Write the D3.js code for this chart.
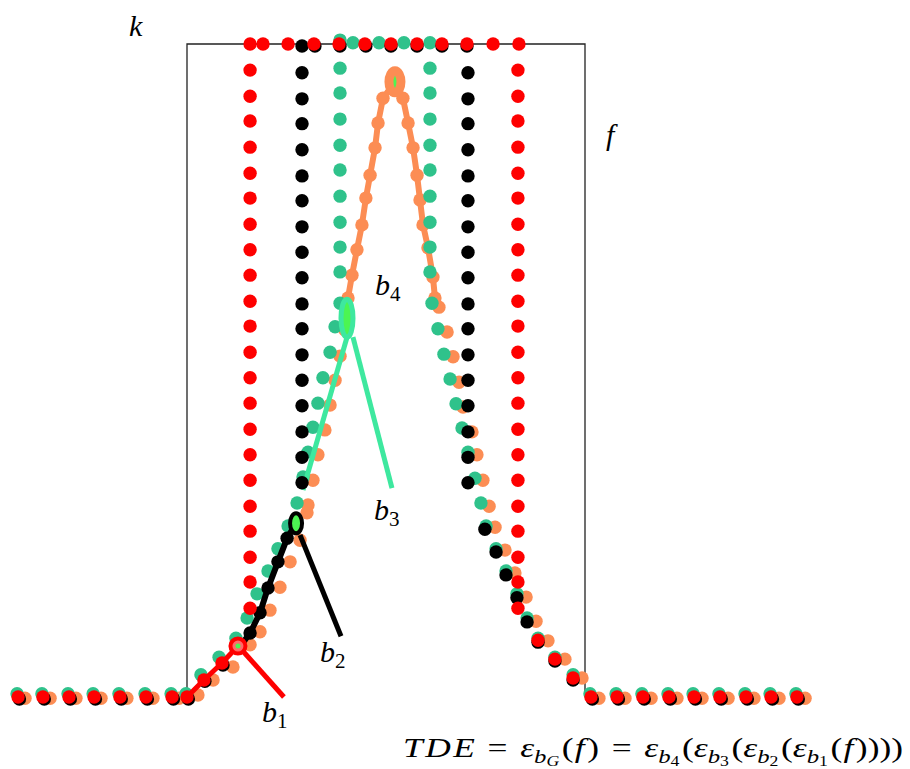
<!DOCTYPE html>
<html>
<head>
<meta charset="utf-8">
<script src="https://cdn.jsdelivr.net/npm/d3@7"></script>
<style>
  body { margin: 0; background: #fff; }
  svg { display: block; }
  text { font-family: "Liberation Serif", "DejaVu Serif", serif; white-space: pre; }
</style>
</head>
<body>
<svg id="chart" width="910" height="769"></svg>
<script>
// target box function k  (x from -1 to 1, height 1)
var kPts = [[-1, 0], [-1, 1], [1, 1], [1, 0]];

// output of block b1 (red)
var redPts = [
  [-1.849, 0], [-1.724, 0], [-1.593, 0], [-1.467, 0], [-1.337, 0], [-1.206, 0], [-1.075, 0], [-1.0, 0],
  [-0.915, 0.026], [-0.824, 0.052], [-0.744, 0.078],
  [-0.683, 0.136], [-0.683, 0.176], [-0.683, 0.214], [-0.683, 0.254], [-0.683, 0.292], [-0.683, 0.332],
  [-0.683, 0.371], [-0.683, 0.410], [-0.683, 0.450], [-0.683, 0.489], [-0.683, 0.528], [-0.683, 0.568],
  [-0.683, 0.606], [-0.683, 0.646], [-0.683, 0.685], [-0.683, 0.724], [-0.683, 0.764], [-0.683, 0.802],
  [-0.683, 0.842], [-0.683, 0.882], [-0.683, 0.920], [-0.683, 0.960],
  [-0.683, 1.0], [-0.618, 1.0], [-0.492, 1.0], [-0.362, 1.0], [-0.236, 1.0], [-0.106, 1.0],
  [0.025, 1.0], [0.156, 1.0], [0.281, 1.0], [0.407, 1.0], [0.538, 1.0], [0.668, 1.0],
  [0.663, 0.960], [0.663, 0.920], [0.663, 0.882], [0.663, 0.842], [0.663, 0.802], [0.663, 0.764],
  [0.663, 0.724], [0.663, 0.685], [0.663, 0.646], [0.663, 0.606], [0.663, 0.568], [0.663, 0.528],
  [0.663, 0.489], [0.663, 0.450], [0.663, 0.410], [0.663, 0.371], [0.663, 0.332], [0.663, 0.292],
  [0.663, 0.254], [0.663, 0.214], [0.663, 0.176], [0.663, 0.136],
  [0.764, 0.087], [0.849, 0.058], [0.940, 0.029],
  [1.030, 0], [1.161, 0], [1.291, 0], [1.422, 0], [1.548, 0], [1.678, 0], [1.809, 0], [1.935, 0], [2.065, 0]
];

// output of block b2 (black)
var blackPts = [
  [-1.842, -0.003], [-1.717, -0.003], [-1.586, -0.003], [-1.460, -0.003], [-1.330, -0.003], [-1.199, -0.003],
  [-1.068, -0.003], [-0.993, -0.003],
  [-0.910, 0.024], [-0.819, 0.049], [-0.739, 0.075], [-0.683, 0.098], [-0.633, 0.129], [-0.593, 0.167],
  [-0.543, 0.207], [-0.497, 0.243], [-0.452, 0.266],
  [-0.422, 0.328], [-0.422, 0.367], [-0.422, 0.406], [-0.422, 0.446], [-0.422, 0.485], [-0.422, 0.524],
  [-0.422, 0.564], [-0.422, 0.602], [-0.422, 0.642], [-0.422, 0.681], [-0.422, 0.720], [-0.422, 0.760],
  [-0.422, 0.798], [-0.422, 0.838], [-0.422, 0.878], [-0.422, 0.916], [-0.422, 0.956],
  [-0.422, 0.997], [-0.357, 0.997], [-0.231, 0.997], [-0.101, 0.997], [0.025, 0.997], [0.156, 0.997],
  [0.281, 0.997], [0.407, 0.997],
  [0.412, 0.956], [0.412, 0.916], [0.412, 0.878], [0.412, 0.838], [0.412, 0.798], [0.412, 0.760],
  [0.412, 0.720], [0.412, 0.681], [0.412, 0.642], [0.412, 0.602], [0.412, 0.564], [0.412, 0.524],
  [0.412, 0.485], [0.412, 0.446], [0.412, 0.406], [0.412, 0.367], [0.412, 0.328],
  [0.497, 0.257], [0.553, 0.222], [0.603, 0.187], [0.658, 0.152], [0.709, 0.115], [0.764, 0.084],
  [0.849, 0.055], [0.940, 0.026],
  [1.037, -0.003], [1.168, -0.003], [1.298, -0.003], [1.429, -0.003], [1.555, -0.003], [1.685, -0.003],
  [1.816, -0.003], [1.942, -0.003], [2.072, -0.003]
];

// output of block b3 (green)
var greenPts = [
  [-1.854, 0.005], [-1.729, 0.005], [-1.598, 0.005], [-1.472, 0.005], [-1.342, 0.005], [-1.211, 0.005],
  [-1.080, 0.005], [-1.005, 0.005],
  [-0.930, 0.034], [-0.839, 0.061], [-0.754, 0.090], [-0.698, 0.121], [-0.648, 0.158], [-0.593, 0.193],
  [-0.543, 0.227], [-0.492, 0.262], [-0.447, 0.297], [-0.417, 0.337], [-0.392, 0.375], [-0.367, 0.413],
  [-0.342, 0.450], [-0.317, 0.489], [-0.281, 0.528], [-0.256, 0.567], [-0.231, 0.603],
  [-0.231, 0.651], [-0.231, 0.689], [-0.231, 0.727], [-0.231, 0.767], [-0.231, 0.807], [-0.231, 0.845],
  [-0.231, 0.885], [-0.231, 0.925], [-0.231, 0.963],
  [-0.231, 1.006], [-0.166, 1.002], [-0.035, 1.002], [0.090, 1.002], [0.221, 1.002],
  [0.221, 0.963], [0.221, 0.925], [0.221, 0.885], [0.221, 0.845], [0.221, 0.807], [0.221, 0.767],
  [0.221, 0.727], [0.221, 0.689], [0.221, 0.651],
  [0.231, 0.603], [0.261, 0.564], [0.291, 0.525], [0.322, 0.487], [0.352, 0.449], [0.382, 0.412],
  [0.412, 0.375], [0.447, 0.335], [0.477, 0.297], [0.503, 0.262], [0.553, 0.227], [0.603, 0.193],
  [0.658, 0.158], [0.709, 0.121], [0.764, 0.090], [0.849, 0.061], [0.940, 0.034],
  [1.025, 0.005], [1.156, 0.005], [1.286, 0.005], [1.417, 0.005], [1.543, 0.005], [1.673, 0.005],
  [1.804, 0.005], [1.930, 0.005], [2.060, 0.005]
];

// input f / output of block b4 (orange)
var orangePts = [
  [-1.814, -0.002], [-1.688, -0.002], [-1.558, -0.002], [-1.432, -0.002], [-1.302, -0.002], [-1.171, -0.002],
  [-1.040, -0.002],
  [-0.945, 0.003], [-0.869, 0.026], [-0.769, 0.046], [-0.683, 0.080], [-0.633, 0.100], [-0.583, 0.133],
  [-0.533, 0.168], [-0.482, 0.207], [-0.432, 0.240], [-0.397, 0.282], [-0.392, 0.294], [-0.367, 0.332],
  [-0.342, 0.371], [-0.307, 0.409], [-0.281, 0.447], [-0.256, 0.485], [-0.231, 0.522], [-0.206, 0.562],
  [-0.191, 0.611], [-0.171, 0.646], [-0.146, 0.685], [-0.121, 0.723], [-0.101, 0.764], [-0.080, 0.799],
  [-0.055, 0.841], [-0.040, 0.879], [-0.015, 0.917], [0.045, 0.942], [0.085, 0.917], [0.111, 0.879],
  [0.136, 0.841], [0.156, 0.799], [0.171, 0.761], [0.186, 0.723], [0.211, 0.688], [0.236, 0.643],
  [0.246, 0.611], [0.266, 0.597],
  [0.307, 0.559], [0.337, 0.521], [0.367, 0.482], [0.387, 0.444], [0.432, 0.406], [0.457, 0.371],
  [0.487, 0.332], [0.518, 0.292], [0.548, 0.260], [0.598, 0.225], [0.648, 0.190], [0.704, 0.153],
  [0.754, 0.116], [0.814, 0.086], [0.899, 0.058], [0.985, 0.029],
  [1.070, -0.002], [1.201, -0.002], [1.332, -0.002], [1.462, -0.002], [1.588, -0.002], [1.719, -0.002],
  [1.849, -0.002], [1.975, -0.002], [2.106, -0.002]
];

// index spans of the active piece of each block, and ring centres
var b1Span = [7, 10];
var b2Span = [10, 16];
var b4Span = [25, 43];
var b4Peak = 34;
var b3Stroke = [[-0.196, 0.551], [-0.417, 0.317]];
var b3Centre = [-0.196, 0.580];

// leader lines to the labels
var b1Leader = [[-0.724, 0.072], [-0.513, 0.0]];
var b2Leader = [[-0.432, 0.248], [-0.226, 0.093]];
var b3Leader = [[-0.166, 0.551], [0.030, 0.320]];

// label anchors
var labels = [
  {name: "b", sub: "1", at: [-0.623, -0.038]},
  {name: "b", sub: "2", at: [-0.332, 0.054]},
  {name: "b", sub: "3", at: [-0.060, 0.271]},
  {name: "b", sub: "4", at: [-0.055, 0.616]},
  {name: "k", sub: "", at: [-1.291, 1.012]},
  {name: "f", sub: "", at: [1.106, 0.845]}
];

var red = "#fe0000", black = "#000000", green = "#2fc28b", orange = "#fc8d54";
var teal = "#3ee89f", lime = "#4cf552";

var svg = d3.select("#chart");

var xScale = d3.scaleLinear().domain([-1, 1]).range([187, 585]);
var yScale = d3.scaleLinear().domain([0, 1]).range([697, 44]);

var line = d3.line()
  .x(function(d) { return xScale(d[0]); })
  .y(function(d) { return yScale(d[1]); });

// box k
svg.append("path")
  .attr("d", line(kPts))
  .attr("fill", "none")
  .attr("stroke", "#222")
  .attr("stroke-width", 1.3);

function drawDots(pts, colour) {
  svg.append("g")
    .selectAll("circle")
    .data(pts)
    .enter().append("circle")
    .attr("cx", function(d) { return xScale(d[0]); })
    .attr("cy", function(d) { return yScale(d[1]); })
    .attr("r", 6.7)
    .attr("fill", colour);
}

function drawStroke(pts, colour, w) {
  svg.append("path")
    .attr("d", line(pts))
    .attr("fill", "none")
    .attr("stroke", colour)
    .attr("stroke-width", w)
    .attr("stroke-linejoin", "round");
}

function drawRing(c, rx, ry, colour, w) {
  svg.append("ellipse")
    .attr("cx", xScale(c[0]))
    .attr("cy", yScale(c[1]))
    .attr("rx", rx)
    .attr("ry", ry)
    .attr("fill", lime)
    .attr("stroke", colour)
    .attr("stroke-width", w);
}

// b4 (orange)
drawDots(orangePts, orange);
drawStroke(orangePts.slice(b4Span[0], b4Span[1] + 1), orange, 6);
drawRing(orangePts[b4Peak], 6, 11, orange, 9);

// b3 (green)
drawDots(greenPts, green);
drawStroke(b3Stroke, teal, 5);
drawStroke(b3Leader, teal, 5);
drawRing(b3Centre, 6, 19, teal, 5);

// b2 (black)
drawDots(blackPts, black);
drawStroke(blackPts.slice(b2Span[0], b2Span[1] + 1), black, 6);
drawStroke(b2Leader, black, 5);
drawRing(blackPts[b2Span[1]], 6, 10, black, 4);

// b1 (red)
drawDots(redPts, red);
drawStroke(redPts.slice(b1Span[0], b1Span[1] + 1), red, 5);
drawStroke(b1Leader, red, 5);
svg.append("circle")
  .attr("cx", xScale(redPts[b1Span[1]][0]))
  .attr("cy", yScale(redPts[b1Span[1]][1]))
  .attr("r", 7.5)
  .attr("fill", "#ff6a6a")
  .attr("stroke", red)
  .attr("stroke-width", 4);
svg.append("circle")
  .attr("cx", xScale(redPts[b1Span[1]][0]))
  .attr("cy", yScale(redPts[b1Span[1]][1]))
  .attr("r", 2.5)
  .attr("fill", lime);

// math-like text: parts are [text, style, extra gap before]; i = italic, r = roman, s = sub, ss = sub-sub
function mathText(x, y, parts, big) {
  var sizes = {i: big, r: big, s: big * 0.7, sr: big * 0.7, ss: big * 0.5, ssr: big * 0.5};
  var shifts = {i: 0, r: 0, s: big * 0.2, sr: big * 0.2, ss: big * 0.33, ssr: big * 0.33};
  var t = svg.append("text").attr("x", x).attr("y", y).attr("fill", "#000");
  var cur = 0;
  parts.forEach(function(p) {
    var st = p[1];
    t.append("tspan")
      .attr("dx", p[2] || 0)
      .attr("dy", shifts[st] - cur)
      .attr("font-size", sizes[st])
      .attr("font-style", (st == "r" || st == "sr" || st == "ssr") ? "normal" : "italic")
      .text(p[0]);
    cur = shifts[st];
  });
  return t;
}

labels.forEach(function(l) {
  var parts = [[l.name, "i"]];
  if (l.sub) parts.push([l.sub, "sr"]);
  mathText(xScale(l.at[0]), yScale(l.at[1]), parts, 30);
});

mathText(403, 757, [
  ["T", "i"], ["D", "i", 2], ["E", "i", 2], ["=", "r", 10], ["\u03b5", "i", 10], ["b", "s"], ["G", "ss"],
  ["(", "r", 2], ["f", "i", 1], [")", "r", 2],
  ["=", "r", 10], ["\u03b5", "i", 10], ["b", "s"], ["4", "ssr"], ["(", "r", 2],
  ["\u03b5", "i"], ["b", "s"], ["3", "ssr"], ["(", "r", 2],
  ["\u03b5", "i"], ["b", "s"], ["2", "ssr"], ["(", "r", 2],
  ["\u03b5", "i"], ["b", "s"], ["1", "ssr"], ["(", "r", 2], ["f", "i", 1], ["))))", "r", 2]
], 28).attr("textLength", 500).attr("lengthAdjust", "spacingAndGlyphs");
</script>
</body>
</html>
